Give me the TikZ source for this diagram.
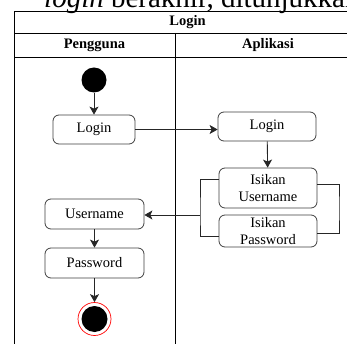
\documentclass[tikz,border=0pt]{standalone}
\usepackage{fontspec}
\setmainfont{Liberation Serif}
\usetikzlibrary{arrows.meta,calc}
\tikzset{
  act/.style={draw=black!75, line width=0.8pt, rounded corners=6pt, fill=white,
    inner sep=0pt, align=center, font=\fontsize{14.5}{17}\selectfont},
  flow/.style={draw=black!85, line width=0.9pt},
  arr/.style={flow, -{Stealth[length=8pt,width=9pt,inset=2pt]}},
  frame/.style={draw=black, line width=0.9pt},
  head/.style={font=\bfseries\fontsize{14.5}{17}\selectfont, inner sep=0pt}
}
\begin{document}
\begin{tikzpicture}[x=1pt,y=-1pt]
\clip (0,0) rectangle (347,344);
\fill[white] (0,0) rectangle (347,344);

% running text above the figure
\node[anchor=base west, inner sep=0pt, font=\fontsize{29}{32}\selectfont] (caption) at (44,7.5)
  {\textit{login} berakhir, ditunjukkan};

% swimlane frame
\draw[frame] (14,360) -- (14,11) -- (361,11) -- (361,360);
\draw[frame] (14,33) -- (361,33);
\draw[frame] (14,57) -- (361,57);
\draw[frame] (175,33) -- (175,360);
\node[head] (title) at (187.5,22) {Login};
\node[head] (lane1) at (94.5,45) {Pengguna};
\node[head] (lane2) at (268,45) {Aplikasi};

% Pengguna lane
\node[circle, fill=black, minimum size=25pt, inner sep=0pt] (start) at (94,80) {};
\node[act, minimum width=82pt, minimum height=29pt] (ulogin) at (94,129.5) {Login};
\node[act, minimum width=99pt, minimum height=30pt] (uuser) at (94.5,214) {Username};
\node[act, minimum width=99pt, minimum height=30pt] (upass) at (94.5,263) {Password};
\node[circle, draw=red, line width=0.7pt, fill=white, minimum size=33pt, inner sep=0pt] (stop) at (94.5,319) {};
\fill[black] (stop.center) circle (13pt);

% Aplikasi lane
\node[act, minimum width=98pt, minimum height=29pt] (alogin) at (267,126.5) {Login};
\node[act, minimum width=98pt, minimum height=40pt] (auser) at (268,188) {Isikan\\Username};
\node[act, minimum width=98pt, minimum height=32pt] (apass) at (268,231) {Isikan\\Password};

% bracket joints
\coordinate (lj) at (200,215);
\coordinate (rj) at (339,208);

% flows
\draw[arr] (start) -- (ulogin);
\draw[arr] (ulogin.east) -- (ulogin.east -| alogin.west);
\draw[arr] (alogin) -- (auser);
\draw[flow] ([yshift=9pt]auser.west) -| (lj) |- ([yshift=-5pt]apass.west);
\draw[flow] ([yshift=4pt]auser.east) -| (rj) |- ([yshift=-2pt]apass.east);
\draw[arr] (lj) -- (lj -| uuser.east);
\draw[arr] (uuser) -- (upass);
\draw[arr] (upass) -- (stop);
\end{tikzpicture}
\end{document}
